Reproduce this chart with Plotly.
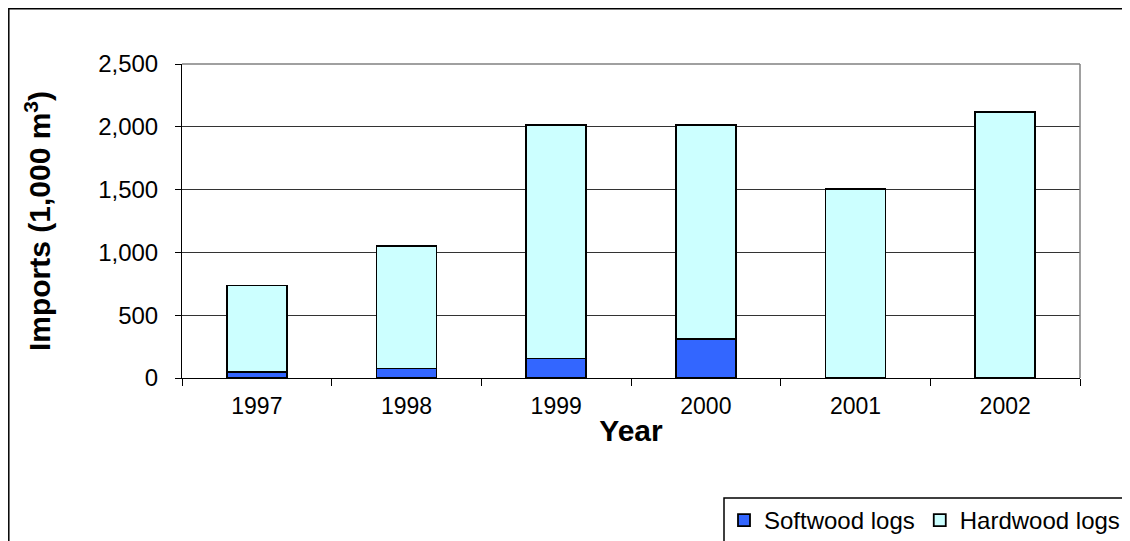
import plotly.graph_objects as go

years = ["1997", "1998", "1999", "2000", "2001", "2002"]
softwood = [45, 75, 155, 310, None, None]
hardwood = [692, 975, 1858, 1704, 1508, 2118]
y_ticks = [0, 500, 1000, 1500, 2000, 2500]
y_tick_text = ["0", "500", "1,000", "1,500", "2,000", "2,500"]

# page body margin offsets the figure by 8px
OFF = 8
W, H = 1130 - OFF, 541 - OFF
# screen coordinates of the plot area: x 182..1080, y 64..378
L, T = 182 - OFF, 64 - OFF
R = W - (1080 - OFF)
B = H - (378 - OFF)
pw, ph = W - L - R, H - T - B

def px(x):  # screen x -> paper
    return (x - OFF - L) / pw

def py(y):  # screen y -> paper
    return (H - B - (y - OFF)) / ph

fig = go.Figure()
fig.add_trace(go.Bar(name="Softwood logs", x=years, y=softwood,
                     marker=dict(color="#3366FF", line=dict(color="#000000", width=1.8))))
fig.add_trace(go.Bar(name="Hardwood logs", x=years, y=hardwood,
                     marker=dict(color="#CCFFFF", line=dict(color="#000000", width=1.8))))

font = "Arial, Liberation Sans, sans-serif"

fig.update_layout(
    width=W, height=H,
    barmode="stack", bargap=0.6,
    margin=dict(l=L, r=R, t=T, b=B, autoexpand=False),
    paper_bgcolor="white", plot_bgcolor="white",
    font=dict(family=font, size=23, color="black"),
    showlegend=True,
    legend=dict(orientation="h", x=px(724), y=py(498), xanchor="left", yanchor="top",
                traceorder="normal", font=dict(size=24), bgcolor="rgba(0,0,0,0)",
                borderwidth=0, itemwidth=30),
    xaxis=dict(type="category", showline=True, linecolor="black", linewidth=1,
               ticks="outside", ticklen=7, tickcolor="black", tickson="boundaries",
               showgrid=False, tickfont=dict(size=23), ticklabelstandoff=7,
               title=dict(text="<b>Year</b>", font=dict(size=30), standoff=2),
               mirror=False, zeroline=False),
    yaxis=dict(range=[0, 2500], tickvals=y_ticks, ticktext=y_tick_text,
               showline=True, linecolor="black", linewidth=1,
               ticks="outside", ticklen=6, tickcolor="black",
               showgrid=True, gridcolor="#333333", gridwidth=1,
               tickfont=dict(size=24), ticklabelstandoff=12,
               title=dict(text="<b>Imports (1,000 m<sup>3</sup>)</b>", font=dict(size=30), standoff=38),
               zeroline=False),
    shapes=[
        # outer chart border
        dict(type="rect", xref="paper", yref="paper", x0=px(8.8), x1=px(1140), y0=py(560), y1=py(8.8),
             line=dict(color="black", width=1.5), fillcolor="rgba(0,0,0,0)", layer="below"),
        # plot frame top/right
        dict(type="line", xref="paper", yref="paper", x0=0, x1=1, y0=1, y1=1,
             line=dict(color="#808080", width=1.5)),
        dict(type="line", xref="paper", yref="paper", x0=1, x1=1, y0=0, y1=1,
             line=dict(color="#808080", width=1.5)),
        # legend box
        dict(type="rect", xref="paper", yref="paper", x0=px(724), x1=px(1140), y0=py(560), y1=py(498),
             line=dict(color="black", width=1.5), fillcolor="rgba(0,0,0,0)"),
    ],
)

fig.write_html("out.html")
